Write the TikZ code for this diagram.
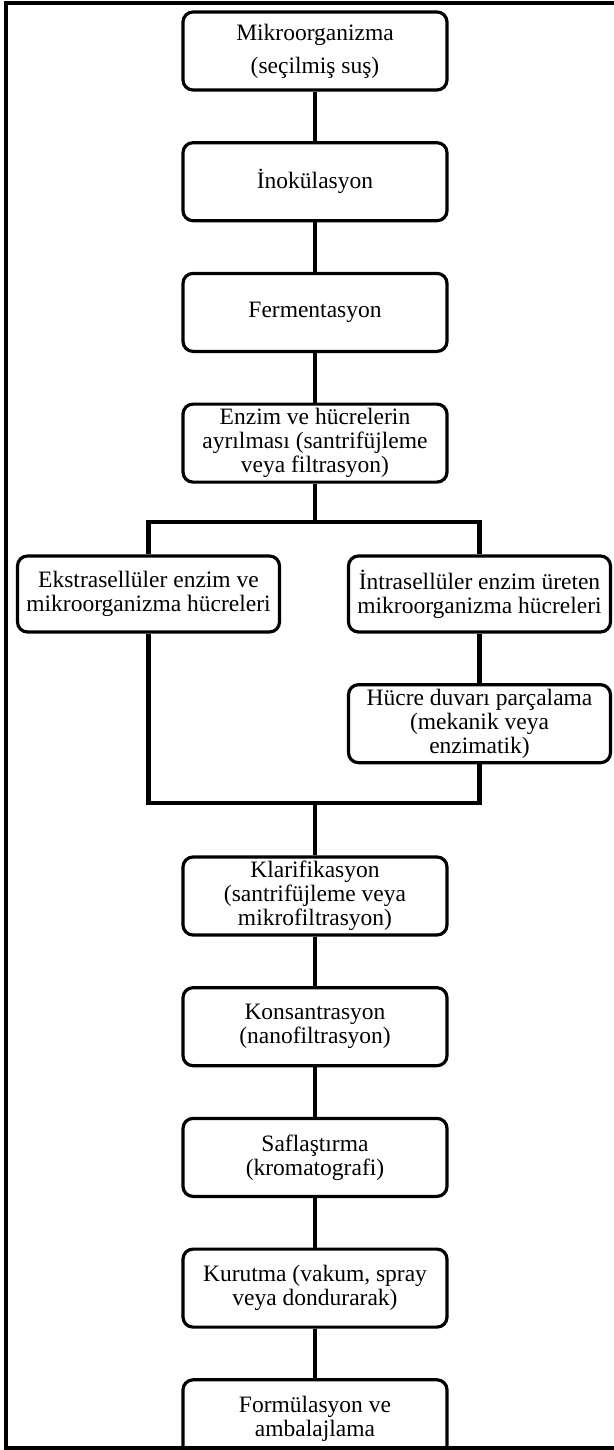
\documentclass[tikz,border=0pt]{standalone}
\usepackage{fontspec}
\setmainfont{Liberation Serif}
\usetikzlibrary{positioning}
\tikzset{
  kutu/.style={rectangle, rounded corners=5pt, draw, line width=1.6pt,
    align=center, minimum width=132pt, minimum height=39pt, inner sep=2pt,
    font=\fontsize{11.75}{12}\selectfont},
  yankutu/.style={kutu, minimum width=131pt, minimum height=38pt},
  hat/.style={line width=2.2pt},
}

\begin{document}
\begin{tikzpicture}[node distance=24.75pt]
    \useasboundingbox (0,0) rectangle (307pt,-725pt);
    % Cerceve
    \draw[line width=2pt] (320pt,-1.5pt) -- (3pt,-1.5pt) -- (3pt,-724pt) -- (320pt,-724pt);
    % Ana akis
    \node[kutu] (mikro) at (157.5pt,-25.5pt) {Mikroorganizma\\[4.5pt](seçilmiş suş)};
    \node[kutu, below=of mikro] (inok) {İnokülasyon};
    \node[kutu, below=of inok] (ferm) {Fermentasyon};
    \node[kutu, below=of ferm] (ayir) {Enzim ve hücrelerin\\ayrılması (santrifüjleme\\veya filtrasyon)};
    % Iki kol
    \node[yankutu] (ekstra) at (74.25pt,-297pt) {Ekstrasellüler enzim ve\\mikroorganizma hücreleri};
    \node[yankutu] (intra) at (239.75pt,-297pt) {İntrasellüler enzim üreten\\mikroorganizma hücreleri};
    \node[kutu, minimum width=131pt, below=of intra] (hucre) {Hücre duvarı parçalama\\(mekanik veya\\enzimatik)};
    % Son islemler
    \node[kutu] (klarif) at (157.5pt,-448pt) {Klarifikasyon\\(santrifüjleme veya\\mikrofiltrasyon)};
    \node[kutu, below=of klarif] (konsant) {Konsantrasyon\\(nanofiltrasyon)};
    \node[kutu, below=of konsant] (safla) {Saflaştırma\\(kromatografi)};
    \node[kutu, below=of safla] (kurut) {Kurutma (vakum, spray\\veya dondurarak)};
    \node[kutu, below=of kurut] (formul) {Formülasyon ve\\ambalajlama};

    \coordinate (ustbar) at (157.5pt,-261pt);
    \coordinate (altbar) at (157.5pt,-401.5pt);

    \draw[hat] (mikro) -- (inok);
    \draw[hat] (inok) -- (ferm);
    \draw[hat] (ferm) -- (ayir);
    \draw[hat] (ayir) -- (ustbar);
    \draw[hat] (ekstra.north) |- (ustbar) -| (intra.north);
    \draw[hat] (intra) -- (hucre);
    \draw[hat] (ekstra.south) |- (altbar) -| (hucre.south);
    \draw[hat] (altbar) -- (klarif);
    \draw[hat] (klarif) -- (konsant);
    \draw[hat] (konsant) -- (safla);
    \draw[hat] (safla) -- (kurut);
    \draw[hat] (kurut) -- (formul);
  \end{tikzpicture}
\end{document}
